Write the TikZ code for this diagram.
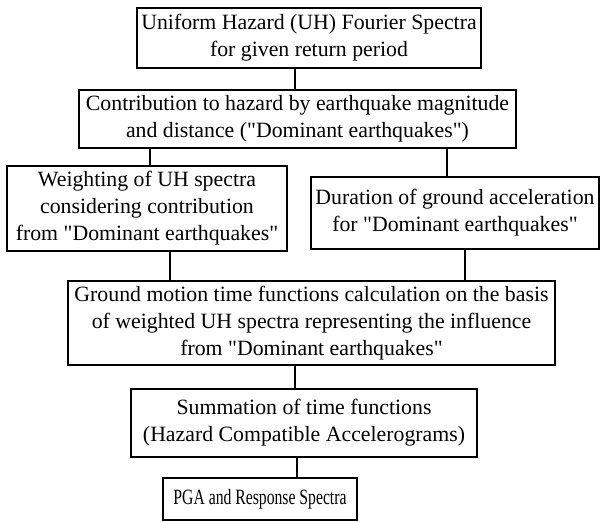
\documentclass[tikz,border=0pt]{standalone}
\usepackage{fontspec}
\setmainfont{Liberation Serif}
\newcommand{\dq}{\textquotedbl}
\tikzstyle{stage}=[shape=rectangle,draw=black,line width=1pt,align=center,inner sep=0pt,font=\fontsize{10.9}{13.5}\selectfont]
\tikzstyle{link}=[line width=1pt]

\begin{document}
\begin{tikzpicture}[x=0.5pt,y=-0.5pt]
\useasboundingbox (0,0) rectangle (600,521);
% stages
\node[stage,minimum width=172pt,minimum height=30pt] (uhs) at (309,38)
    {Uniform Hazard (UH) Fourier Spectra\\for given return period};
\node[stage,minimum width=218.5pt,minimum height=29pt] (contrib) at (297.5,119)
    {Contribution to hazard by earthquake magnitude\\and distance (\dq Dominant earthquakes\dq)};
\node[stage,minimum width=140pt,minimum height=42.5pt] (weight) at (147,208.5)
    {Weighting of UH spectra\\considering contribution\\from \dq Dominant earthquakes\dq};
\node[stage,minimum width=144pt,minimum height=36pt] (duration) at (455,213)
    {Duration of ground acceleration\\for \dq Dominant earthquakes\dq};
\node[stage,minimum width=243.5pt,minimum height=42pt] (motion) at (311.5,323)
    {Ground motion time functions calculation on the basis\\of weighted UH spectra representing the influence\\from \dq Dominant earthquakes\dq};
\node[stage,minimum width=173pt,minimum height=34pt] (summ) at (304,423)
    {Summation of time functions\\(Hazard Compatible Accelerograms)};
\node[stage,minimum width=97pt,minimum height=21pt] (pga) at (260,499)
    {\scalebox{0.72}[1]{PGA and Response Spectra}};
% links
\draw[link] ([xshift=-7pt]uhs.south) -- ([xshift=-7pt]uhs.south |- contrib.north);
\draw[link] ([xshift=1.5pt]weight.north) -- ([xshift=1.5pt]weight.north |- contrib.south);
\draw[link] ([xshift=-4pt]duration.north) -- ([xshift=-4pt]duration.north |- contrib.south);
\draw[link] ([xshift=11.5pt]weight.south) -- ([xshift=11.5pt]weight.south |- motion.north);
\draw[link] ([xshift=5pt]duration.south) -- ([xshift=5pt]duration.south |- motion.north);
\draw[link] ([xshift=-4.5pt]summ.north) -- ([xshift=-4.5pt]summ.north |- motion.south);
\draw[link] ([xshift=18.5pt]pga.north) -- ([xshift=18.5pt]pga.north |- summ.south);
\end{tikzpicture}
\end{document}
